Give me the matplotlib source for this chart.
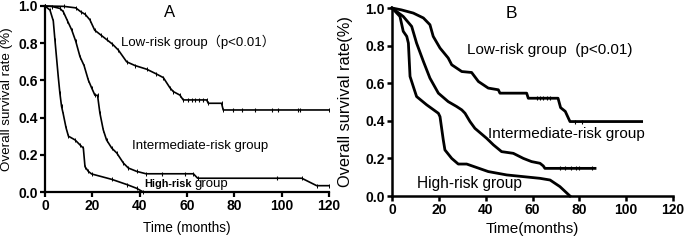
import matplotlib
matplotlib.use("Agg")
import matplotlib.pyplot as plt

plt.rcParams["font.family"] = ["Liberation Sans", "Noto Sans CJK SC", "DejaVu Sans"]

# panel A curves (months, survival)
a_low_t = [0, 8, 13, 15, 17, 19, 21, 23.5, 26, 28.5, 31, 34.5, 38, 43, 47, 50, 52.8, 54.2, 57, 58.4, 68.3, 69, 74.6, 75.3, 120]
a_low_s = [1.0, 0.998, 0.99, 0.97, 0.955, 0.925, 0.87, 0.845, 0.82, 0.795, 0.763, 0.70, 0.68, 0.66, 0.635, 0.615, 0.56, 0.54, 0.521, 0.495, 0.495, 0.477, 0.477, 0.441, 0.441]
a_mid_t = [0, 3, 6.3, 7.7, 9.5, 11.3, 13, 14.8, 16.5, 18.3, 19.7, 21.1, 22.2, 23.2, 24.6, 26, 28.2, 30.3, 33.1, 35.2, 38.7, 42.7, 62.7, 64.5, 108.5, 114.8, 120]
a_mid_s = [1.0, 0.997, 0.987, 0.97, 0.92, 0.871, 0.81, 0.727, 0.68, 0.602, 0.56, 0.52, 0.52, 0.424, 0.335, 0.28, 0.236, 0.21, 0.156, 0.129, 0.111, 0.098, 0.098, 0.074, 0.074, 0.034, 0.034]
a_high_t = [0, 2.1, 3.5, 4.2, 5.6, 6.3, 7, 7.7, 8.9, 9.9, 12.7, 14.8, 16.2, 16.9, 18.3, 19.7, 28.2, 34.6, 38.7, 41.5]
a_high_s = [1.0, 0.978, 0.92, 0.817, 0.62, 0.53, 0.46, 0.42, 0.345, 0.30, 0.28, 0.253, 0.236, 0.136, 0.111, 0.097, 0.068, 0.04, 0.02, 0.0]

# panel A censored ticks
a_cens_t = [60.5, 62, 63.5, 65, 66.8, 79.6, 83.1, 88.7, 95.8, 98.6, 107, 107.7, 49.3, 59.1, 97.9]
a_cens_s = [0.495, 0.495, 0.495, 0.495, 0.495, 0.441, 0.441, 0.441, 0.441, 0.441, 0.441, 0.441, 0.098, 0.098, 0.074]

# panel B curves
b_low_t = [0, 4, 9.1, 13.4, 16.2, 17.6, 20.5, 24, 25.5, 29.8, 34, 36.9, 41.1, 45.4, 46.1, 57.5, 58.2, 70.9, 72, 74, 76, 106.6]
b_low_s = [1.0, 0.99, 0.973, 0.947, 0.911, 0.849, 0.787, 0.734, 0.698, 0.662, 0.657, 0.609, 0.574, 0.565, 0.547, 0.547, 0.52, 0.52, 0.47, 0.45, 0.396, 0.396]
b_mid_t = [0, 4.8, 8.4, 10.5, 13.4, 16.2, 19.8, 24, 27.6, 29.8, 31.2, 33.3, 35.4, 40.4, 43.3, 46.8, 51.8, 56.1, 59.6, 63.2, 64.6, 65.3, 86.7]
b_mid_s = [1.0, 0.955, 0.902, 0.813, 0.716, 0.627, 0.547, 0.502, 0.476, 0.458, 0.44, 0.396, 0.36, 0.307, 0.272, 0.236, 0.227, 0.20, 0.183, 0.174, 0.16, 0.147, 0.147]
b_high_t = [0, 3.4, 4.8, 6.3, 7, 7.7, 9.1, 10.5, 14.8, 19.8, 20.5, 21.9, 22.6, 25.5, 28.3, 31.9, 41.1, 49, 63.2, 67.5, 71.7, 76]
b_high_s = [1.0, 0.955, 0.876, 0.849, 0.813, 0.636, 0.582, 0.529, 0.485, 0.44, 0.422, 0.298, 0.245, 0.20, 0.17, 0.17, 0.13, 0.112, 0.094, 0.085, 0.05, 0.0]

b_cens_t = [61.8, 63, 64.5, 66, 67.5, 78, 81, 71.7, 74, 76.5, 78.5, 80, 85.3]
b_cens_s = [0.52, 0.52, 0.52, 0.52, 0.52, 0.396, 0.396, 0.147, 0.147, 0.147, 0.147, 0.147, 0.147]

xticks = [0, 20, 40, 60, 80, 100, 120]
yticks = [0.0, 0.2, 0.4, 0.6, 0.8, 1.0]

fig = plt.figure(figsize=(6.85, 2.4), dpi=100)
axA = fig.add_axes([45 / 685, 48 / 240, 284 / 685, 186 / 240])
axB = fig.add_axes([392 / 685, 44 / 240, 281 / 685, 188 / 240])


def style(ax, lw):
    for s in ["top", "right"]:
        ax.spines[s].set_visible(False)
    for s in ["left", "bottom"]:
        ax.spines[s].set_linewidth(lw)
    ax.set_xlim(0, 120)
    ax.set_ylim(0, 1.0)
    ax.set_xticks(xticks)
    ax.set_yticks(yticks)
    ax.set_yticklabels([f"{v:.1f}" for v in yticks])
    ax.tick_params(direction="out", length=3.5, width=lw, labelsize=10, pad=1.5)
    for lab in ax.get_xticklabels() + ax.get_yticklabels():
        lab.set_fontweight("bold")


# panel A
for t, s in [(a_low_t, a_low_s), (a_mid_t, a_mid_s), (a_high_t, a_high_s)]:
    axA.plot(t, s, color="black", lw=1.2, marker="|", ms=3, mew=0.7, clip_on=False)
axA.plot(a_cens_t, a_cens_s, ls="none", color="black", marker="|", ms=3.5, mew=0.8)
style(axA, 1.6)
axA.set_xlabel("Time (months)", fontsize=9.8)
axA.set_ylabel("Overall survival rate (%)", fontsize=9.6)
axA.xaxis.set_label_coords(0.5, -0.158)
axA.yaxis.set_label_coords(-0.113, 0.5)
axA.text(52.5, 0.965, "A", fontsize=12, ha="center", va="center")
axA.text(32, 0.807, "Low-risk group（p<0.01）", fontsize=9.5, va="center")
axA.text(36.7, 0.247, "Intermediate-risk group", fontsize=9.5, va="center")
hr = axA.text(41.8, 0.044, "High-risk", fontsize=7.8, fontweight="bold", va="center")
axA.annotate("group", xy=(1, 0.5), xycoords=hr, xytext=(2, 0), textcoords="offset points",
             fontsize=9.5, va="center")

# panel B
for t, s in [(b_low_t, b_low_s), (b_mid_t, b_mid_s), (b_high_t, b_high_s)]:
    axB.plot(t, s, color="black", lw=2.0, clip_on=False)
axB.plot(b_cens_t, b_cens_s, ls="none", color="black", marker="|", ms=3.5, mew=0.8)
style(axB, 1.8)
axB.set_xlabel("Time(months)", fontsize=11)
axB.set_ylabel("Overall survival rate(%)", fontsize=11.8)
axB.xaxis.set_label_coords(0.5, -0.14)
axB.yaxis.set_label_coords(-0.14, 0.5)
axB.text(51, 0.97, "B", fontsize=12.5, ha="center", va="center")
axB.text(32, 0.774, "Low-risk group  (p<0.01)", fontsize=11, va="center")
axB.text(41, 0.33, "Intermediate-risk group", fontsize=11, va="center")
axB.text(10.7, 0.068, "High-risk group", fontsize=11.2, va="center")

fig.savefig("out.png", dpi=100)
